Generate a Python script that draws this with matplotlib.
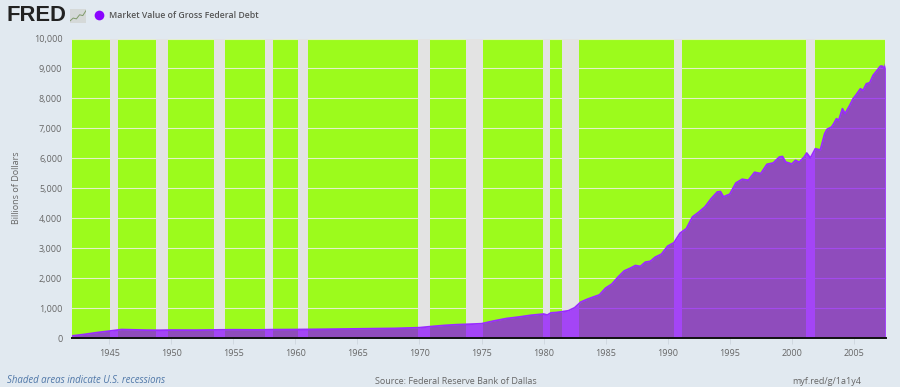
import matplotlib
matplotlib.use("Agg")
import matplotlib.pyplot as plt
from matplotlib.ticker import FuncFormatter

years = [1942, 1943, 1944, 1945, 1945.6, 1946, 1947, 1948, 1949, 1950, 1952, 1954, 1955, 1957, 1958, 1960,
         1962, 1965, 1968, 1970, 1971, 1972, 1973, 1974, 1975, 1976, 1977, 1978, 1979, 1980, 1980.3, 1980.6,
         1981, 1981.5, 1982, 1982.5, 1983, 1983.5, 1984, 1984.5, 1985, 1985.5, 1986, 1986.5, 1987, 1987.4,
         1987.8, 1988.2, 1988.6, 1989, 1989.5, 1990, 1990.5, 1991, 1991.5, 1992, 1992.5, 1993, 1993.5, 1994,
         1994.25, 1994.5, 1994.75, 1995, 1995.5, 1996, 1996.5, 1997, 1997.5, 1998, 1998.5, 1999, 1999.25,
         1999.5, 2000, 2000.3, 2000.6, 2001, 2001.2, 2001.5, 2001.9, 2002.3, 2002.65, 2002.84, 2003.2, 2003.38,
         2003.6, 2003.78, 2004.08, 2004.29, 2004.67, 2004.94, 2005.15, 2005.53, 2005.74, 2006.01, 2006.28,
         2006.55, 2006.87, 2007.14, 2007.3, 2007.46, 2007.55]
debt = [70, 120, 180, 230, 262, 282, 272, 262, 258, 265, 262, 272, 275, 270, 278, 282,
        290, 305, 320, 345, 385, 420, 445, 460, 477, 570, 650, 700, 760, 800, 767, 840,
        850, 877, 910, 1010, 1200, 1290, 1367, 1440, 1667, 1800, 2033, 2240, 2333, 2420,
        2390, 2533, 2560, 2700, 2800, 3067, 3180, 3500, 3650, 4043, 4200, 4377, 4650, 4877,
        4890, 4710, 4760, 4800, 5177, 5300, 5267, 5533, 5490, 5800, 5843, 6043, 6060,
        5877, 5810, 5933, 5870, 6043, 6177, 6010, 6320, 6277, 6822, 6967, 7044, 7156,
        7322, 7267, 7656, 7489, 7767, 7989, 8100, 8322, 8267, 8489, 8522,
        8767, 8933, 9077, 9077, 8990, 9130]

rec_start = [1945.06, 1948.77, 1953.42, 1957.53, 1960.19, 1969.88, 1973.77, 1979.95, 1981.46, 1990.48, 2001.15]
rec_end = [1945.7, 1949.7, 1954.3, 1958.2, 1961.04, 1970.85, 1975.14, 1980.52, 1982.83, 1991.15, 2001.84]

xticks = list(range(1945, 2006, 5))
yticks = list(range(0, 10001, 1000))

title = "Market Value of Gross Federal Debt"
source = "Source: Federal Reserve Bank of Dallas"
note = "Shaded areas indicate U.S. recessions"
link = "myf.red/g/1a1y4"

W, H = 900, 387
bg = "#e1e9f0"
txt = "#666666"
plt.rcParams['font.family'] = ['Open Sans', 'DejaVu Sans']

fig = plt.figure(figsize=(W / 100, H / 100), dpi=100, facecolor=bg)
ax = fig.add_axes([72 / W, 1 - 338 / H, (885.5 - 72) / W, 299.5 / H], facecolor="#9cfb1c")

ax.set_axisbelow(True)
ax.grid(axis="y", color="#e4f0c8", lw=0.8, zorder=1)
for a, b in zip(rec_start, rec_end):
    ax.axvspan(a, b, color="#e3e3e3", lw=0, zorder=2)
ax.fill_between(years, debt, 0, color="#8a05ff", alpha=0.71, lw=0, zorder=3)
ax.plot(years, debt, color="#9a2bff", lw=1.3, zorder=4)

ax.set_xlim(1942, 2007.55)
ax.set_ylim(0, 10000)
ax.set_xticks(xticks)
ax.set_yticks(yticks)
ax.yaxis.set_major_formatter(FuncFormatter(lambda v, p: f"{int(v):,}"))
ax.tick_params(axis="y", length=0, labelsize=6.5, labelcolor=txt, pad=7)
ax.tick_params(axis="x", length=4, width=0.7, color="#d0d8e0", labelsize=6.5, labelcolor=txt, pad=4)
for s in ["top", "right", "left"]:
    ax.spines[s].set_visible(False)
ax.spines["bottom"].set_color("#111111")
ax.spines["bottom"].set_linewidth(1.4)
ax.spines["bottom"].set_zorder(6)

fig.text(17 / W, 1 - 188 / H, "Billions of Dollars", rotation=90, ha="center", va="center", fontsize=6.5, color=txt)

# header
fig.text(7 / W, 1 - 15.5 / H, "FRED", family=["Liberation Sans", "DejaVu Sans"], fontsize=15.8, fontweight="bold",
         color="#222222", ha="left", va="center")
icon = fig.add_axes([70 / W, 1 - 23 / H, 16 / W, 14 / H], facecolor="#d5d9d8")
icon.plot([0, 1, 2, 3, 4, 5], [0.5, 1.2, 1, 2, 1.8, 3], color="#7f9a6a", lw=0.7)
icon.set_xlim(0, 5)
icon.set_ylim(0, 3.4)
icon.set_xticks([])
icon.set_yticks([])
for s in icon.spines.values():
    s.set_visible(False)
fig.add_artist(plt.Line2D([98.5 / W], [1 - 15 / H], marker="o", ms=7, color="#8a05ff", mew=0))
fig.text(109 / W, 1 - 16 / H, title, fontsize=6.3, fontweight="semibold", color="#555555", ha="left", va="center")

# footer
fig.text(7 / W, 1 - 380.5 / H, note, fontsize=6.9, style="italic", color="#4f77a8", ha="left", va="center")
fig.text(375 / W, 1 - 381 / H, source, fontsize=6.45, color=txt, ha="left", va="center")
fig.text(792 / W, 1 - 381 / H, link, fontsize=6.45, color=txt, ha="left", va="center")

fig.savefig("out.png", dpi=100, facecolor=bg)
